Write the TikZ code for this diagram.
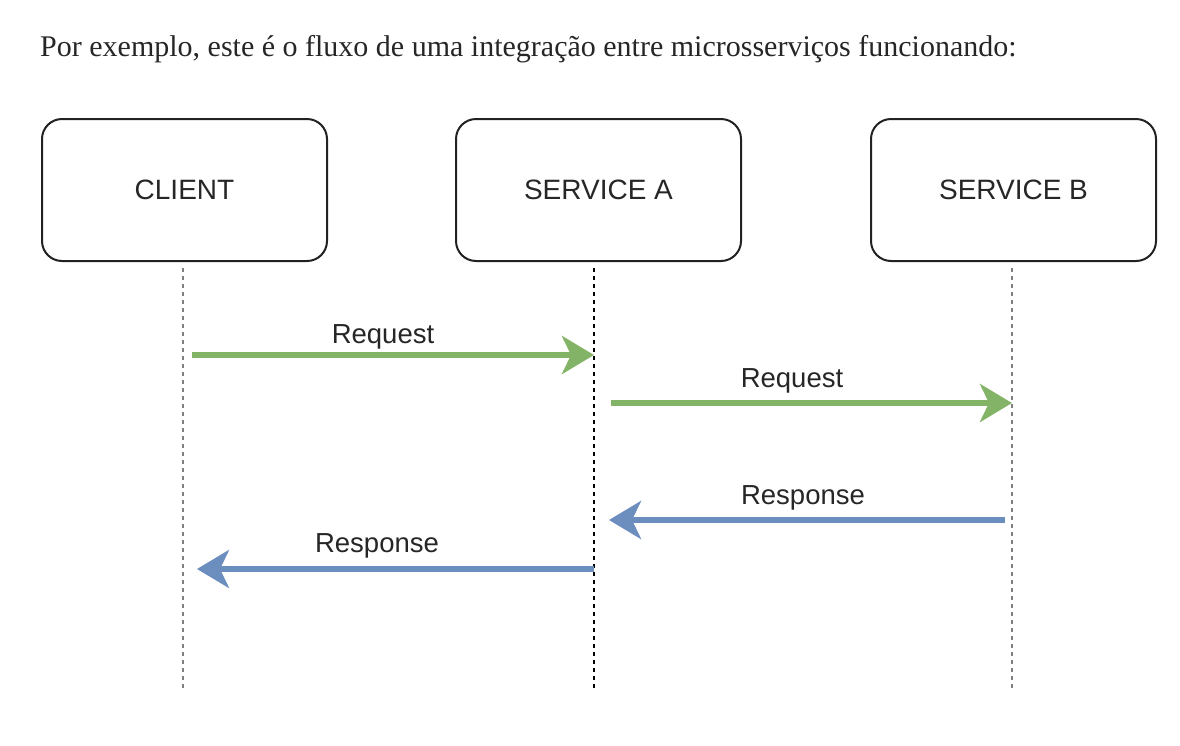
\documentclass[tikz,border=0pt]{standalone}
\usepackage{fontspec}
\setmainfont{Liberation Serif}
\newfontfamily\diagfont{Liberation Sans}
\usetikzlibrary{arrows.meta}
\definecolor{reqgreen}{HTML}{82B366}
\definecolor{respblue}{HTML}{6C8EBF}
\definecolor{boxline}{HTML}{222222}
\begin{document}
\begin{tikzpicture}[x=1pt, y=-1pt,
        actor/.style={draw=boxline, line width=2pt, rounded corners=20pt,
            minimum width=285pt, minimum height=142pt, inner sep=0pt,
            font=\diagfont\fontsize{28}{33}\selectfont, text=black!85},
        lifeline/.style={line width=2pt, dash pattern=on 4pt off 4pt},
        msg/.style={line width=5.5pt, -{Stealth[length=32pt, width=38pt, inset=9pt]}},
        msglabel/.style={font=\diagfont\fontsize{27.5}{32}\selectfont, text=black!85, anchor=base}]
    \useasboundingbox (0,0) rectangle (1180,745);

    % Title line
    \node[anchor=base west, inner sep=0pt, font=\fontsize{30}{34}\selectfont, text=black!85] (title) at (40,56)
        {Por exemplo, este é o fluxo de uma integração entre microsserviços funcionando:};

    % Participants
    \node[actor] (client) at (184.5,190) {CLIENT};
    \node[actor] (svca) at (598.5,190) {SERVICE A};
    \node[actor] (svcb) at (1013.5,190) {SERVICE B};

    % Lifelines
    \coordinate (cltop) at (183,268);   \coordinate (clbot) at (183,688);
    \coordinate (satop) at (594,268);   \coordinate (sabot) at (594,688);
    \coordinate (sbtop) at (1012,268);  \coordinate (sbbot) at (1012,688);
    \draw[lifeline, gray] (cltop) -- (clbot);
    \draw[lifeline, black] (satop) -- (sabot);
    \draw[lifeline, gray] (sbtop) -- (sbbot);

    % Message end points
    \coordinate (m1s) at (192,355);   \coordinate (m1e) at (594,355);
    \coordinate (m2s) at (611,403);   \coordinate (m2e) at (1012,403);
    \coordinate (m3s) at (1005,520);  \coordinate (m3e) at (609,520);
    \coordinate (m4s) at (594,569);   \coordinate (m4e) at (197,569);

    % Requests
    \draw[msg, reqgreen] (m1s) -- (m1e);
    \node[msglabel] (req1) at (383,343) {Request};
    \draw[msg, reqgreen] (m2s) -- (m2e);
    \node[msglabel] (req2) at (792,387) {Request};

    % Responses
    \draw[msg, respblue] (m3s) -- (m3e);
    \node[msglabel] (resp1) at (803,504) {Response};
    \draw[msg, respblue] (m4s) -- (m4e);
    \node[msglabel] (resp2) at (377,552) {Response};
\end{tikzpicture}
\end{document}
